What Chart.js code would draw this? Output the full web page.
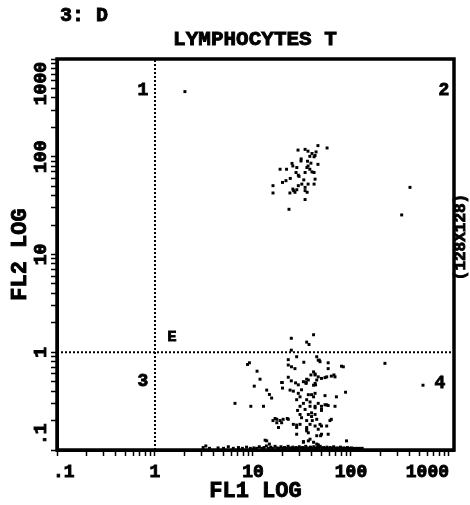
<!DOCTYPE html>
<html>
<head>
<meta charset="utf-8">
<script src="https://cdn.jsdelivr.net/npm/chart.js@4.4.0/dist/chart.umd.min.js"></script>
<style>
  html, body { margin: 0; padding: 0; background: #fff; }
</style>
</head>
<body>
<canvas id="c" width="470" height="505"></canvas>
<script>
// FL1 / FL2 log scatter, lymphocytes T
var decades = [0.1, 1, 10, 100, 1000];
var decadeLabels = [".1", "1", "10", "100", "1000"];

// quadrant gates (FL1 = 1, FL2 = 1)
var gateX = 1;
var gateY = 1;

// [FL1, FL2] events
var upperCluster = [
  [46,130],[57,123],[28.8,117],[34,119],[36.4,114],[40,108],[43,103],[42,100],[38,101],
  [30.9,90.5],[36,90],[46,83.6],[25,85.5],[25.5,80.5],[18.9,74.5],[22,74.5],[28,77.6],
  [35.5,77.6],[36.5,80.5],[38,74.5],[40,70],[42,69],[27.5,69],[29,64.7],[29.5,63],[34,69],
  [43,59],[21.7,56.9],[20,54.6],[31.5,52.5],[36.5,52.5],[42,52.5],[29,50.6],[34,48.6],
  [16,50.6],[16,42.6],[25.5,46.7],[26,45],[26.8,43.3],[28,46],[23.8,42.6],[34,45],
  [35.7,43.3],[34,36.5],[23.3,29],[31,95],[44,112],[39,86],[24,60],[33,58]
];

var lowerCluster = [
  [24.6,1.39],[41.5,1.51],[35.3,1.27],[37.3,1.2],[24.6,1.05],[9.2,0.78],[8.8,0.75],[11.0,0.64],
  [11.8,0.53],[10.3,0.45],[6.55,0.3],[9.5,0.28],[12.8,0.28],[13.8,0.41],[14.7,0.37],[15.5,0.34],
  [19.6,0.49],[20,0.43],[22.9,0.74],[24.7,0.71],[26.8,0.68],[22.9,0.84],[16.8,0.21],[17.5,0.19],
  [18.2,0.17],[19.6,0.19],[22.4,0.21],[27.9,0.18],[30.2,0.183],[23.9,0.41],[25.8,0.4],[29,0.38],
  [30.2,0.35],[32.7,0.5],[34.8,0.48],[36.7,0.52],[41.5,0.46],[43,0.48],[44.7,0.52],[41.5,0.63],
  [43,0.586],[46.3,0.56],[46.3,0.83],[48.3,0.8],[58.5,0.78],[58.5,0.68],[56.5,0.56],[67,0.586],
  [71,0.35],[88,0.39],[83.5,0.71],[63,0.206],[30.2,0.28],[32.7,0.3],[35.3,0.327],[38.2,0.31],
  [41.5,0.35],[43,0.28],[46.3,0.3],[50,0.28],[54.3,0.29],[58.5,0.285],[34,0.26],[36.7,0.231],
  [39.6,0.24],[43,0.231],[44.7,0.206],[48.3,0.183],[46.3,0.163],[56.5,0.176],[58.5,0.145],
  [49,0.14],[35.3,0.163],[36.7,0.15],[27.9,0.145],[38.2,0.129],[32.7,0.12],[44.7,0.115],
  [46.3,0.11],[13.8,0.124],[14.7,0.115],[90,0.124],
  [24.6,0.51],[27.2,0.486],[29,0.464],[19.9,0.49],[35.3,0.53],[34.8,0.49],[43.5,0.464],[50,0.54],
  [54.3,0.55],[31.3,0.413],[36.7,0.368],[39.6,0.368],[43,0.38],[54.3,0.36],[27.9,0.327],
  [38.2,0.28],[43,0.27],[50,0.254],[56.5,0.29],[28.5,0.254],[30.2,0.231],[31.3,0.214],
  [39.6,0.22],[22.9,0.206],[25.8,0.183],[27.9,0.17],[35.3,0.17],[40.3,0.2],[43,0.176],[50,0.176],
  [35.3,0.157],[50,0.145],[44.7,0.14],[32.7,0.122],[36.7,0.124],[41.5,0.12],[46.3,0.113],
  [13.3,0.126],[68.7,0.56],[80,0.72],[33,0.79],[27.9,0.9],[44.7,0.9],[47.5,0.83],[39,0.586],
  [43,0.6],[63,0.57],[22.9,0.555],[16,0.2],[17.5,0.206],[18.9,0.2],[20.3,0.206],[35.3,0.2],
  [38.2,0.183],[61,0.2],[68.7,0.28],[50,0.26]
];

// events piled on the FL2 floor
var floorEvents = [
  [3.1,0.106],[3.3,0.11],[3.6,0.104],[4.4,0.105],[5.0,0.104],[5.6,0.108],[6.3,0.104],[7.1,0.106],
  [7.8,0.104],[8.6,0.107],[9.4,0.104],[10.2,0.105],[10.9,0.104],[11.6,0.108],[12.3,0.104],
  [13.0,0.106],[13.7,0.11],[14.4,0.104],[15.2,0.107],[16.0,0.104],[16.8,0.109],[17.6,0.105],
  [18.5,0.104],[19.3,0.108],[20.1,0.104],[21.0,0.106],[21.9,0.104],[22.8,0.109],[23.7,0.105],
  [24.6,0.104],[25.5,0.107],[26.5,0.104],[27.5,0.106],[28.6,0.104],[29.7,0.108],[30.8,0.104],
  [32.0,0.106],[33.2,0.104],[34.5,0.109],[35.8,0.105],[37.2,0.104],[38.6,0.107],[40.1,0.104],
  [41.7,0.108],[43.3,0.104],[45.0,0.106],[46.8,0.104],[48.6,0.109],[50.5,0.104],[52.5,0.106],
  [54.6,0.104],[56.8,0.107],[59.1,0.104],[61.5,0.106],[64.0,0.104],[66.6,0.108],[69.3,0.104],
  [72.1,0.105],[75.0,0.104],[78.1,0.107],[81.3,0.104],[84.6,0.105],[88.0,0.104],[92.0,0.106],
  [96.5,0.104],[101,0.105],[107,0.104],[114,0.104],[122,0.104],[130,0.104]
];

var strayEvents = [[2.02,464],[400,48.6],[329,25.4],[543,0.46],[222,0.77]];

function pts(list) {
  return list.map(function(p) { return {x: p[0], y: p[1]}; });
}

function minorTicks() {
  var out = [];
  for (var d = 0; d < decades.length; d++) {
    out.push({value: decades[d]});
    if (d < decades.length - 1) {
      for (var k = 2; k <= 9; k++) out.push({value: decades[d] * k});
    }
  }
  return out;
}

var mono = '"Liberation Mono", "DejaVu Sans Mono", monospace';

// heavy text: fill plus a thin stroke, like the old plotter font
function text(ctx, s, x, y, size, align, rot) {
  ctx.save();
  ctx.translate(x, y);
  if (rot) ctx.rotate(rot);
  ctx.font = "bold " + size + "px " + mono;
  ctx.fillStyle = "#000";
  ctx.strokeStyle = "#000";
  ctx.lineWidth = 0.9;
  ctx.textAlign = align || "center";
  ctx.textBaseline = "middle";
  ctx.fillText(s, 0, 0);
  ctx.strokeText(s, 0, 0);
  ctx.restore();
}

var decor = {
  id: "decor",
  afterDraw: function(chart) {
    var ctx = chart.ctx;
    var a = chart.chartArea;
    var xs = chart.scales.x;
    var ys = chart.scales.y;

    // frame
    ctx.save();
    ctx.strokeStyle = "#000";
    ctx.lineWidth = 3.5;
    ctx.strokeRect(a.left, a.top, a.right - a.left, a.bottom - a.top);
    ctx.restore();

    var i, p;
    // x tick labels: first starts at its tick, last ends at its tick
    for (i = 0; i < decades.length; i++) {
      p = xs.getPixelForValue(decades[i]);
      var al = i === 0 ? "left" : (i === decades.length - 1 ? "right" : "center");
      text(ctx, decadeLabels[i], p + (i === 0 ? -4 : 0), 472, 18, al);
    }

    // y tick labels, kept inside the axis length
    ctx.save();
    ctx.font = "bold 18px " + mono;
    for (i = 0; i < decades.length; i++) {
      p = ys.getPixelForValue(decades[i]);
      var w = ctx.measureText(decadeLabels[i]).width;
      var c = Math.min(Math.max(p, a.top + 3 + w / 2), a.bottom - 5 - w / 2);
      text(ctx, decadeLabels[i], 41, c, 18, "center", -Math.PI / 2);
    }
    ctx.restore();

    text(ctx, "FL1 LOG", (a.left + a.right) / 2, 491, 22, "center");
    text(ctx, "FL2 LOG", 20, (a.top + a.bottom) / 2, 22, "center", -Math.PI / 2);

    text(ctx, "3: D", 60, 16, 20, "left");
    text(ctx, "LYMPHOCYTES T", 255, 40, 21, "center");
    text(ctx, "(128X128)", 461, 237, 16, "center", -Math.PI / 2);

    text(ctx, "1", 143, 90, 18);
    text(ctx, "2", 444, 90, 18);
    text(ctx, "3", 143, 381, 18);
    text(ctx, "4", 440, 383, 18);
    text(ctx, "E", 172, 337, 15);
  }
};

var dotStyle = {
  type: "scatter",
  pointStyle: "rect",
  pointRadius: 2.1,
  pointHoverRadius: 2.1,
  backgroundColor: "#000",
  borderWidth: 0
};

function dots(list) {
  return Object.assign({data: pts(list)}, dotStyle);
}

function gateLine(data) {
  return {
    type: "line",
    data: data,
    borderColor: "#000",
    borderWidth: 2,
    borderDash: [2, 2],
    pointRadius: 0,
    fill: false
  };
}

new Chart(document.getElementById("c"), {
  type: "scatter",
  data: {
    datasets: [
      gateLine([{x: gateX, y: 0.1}, {x: gateX, y: 1000}]),
      gateLine([{x: 0.1, y: gateY}, {x: 1125, y: gateY}]),
      dots(upperCluster),
      dots(lowerCluster),
      dots(floorEvents),
      dots(strayEvents)
    ]
  },
  options: {
    responsive: false,
    animation: false,
    events: [],
    layout: {padding: {top: 59, right: 16, left: 0, bottom: 0}},
    plugins: {legend: {display: false}, tooltip: {enabled: false}, title: {display: false}},
    scales: {
      x: {
        type: "logarithmic",
        position: "bottom",
        min: 0.1,
        max: 1125,
        afterBuildTicks: function(s) { s.ticks = minorTicks(); },
        afterFit: function(s) { s.height = 55; },
        ticks: {display: false},
        grid: {drawOnChartArea: false, drawTicks: true, tickLength: 6, tickColor: "#000", tickWidth: 1.5},
        border: {display: true, color: "#000", width: 3}
      },
      y: {
        type: "logarithmic",
        position: "left",
        min: 0.1,
        max: 1000,
        afterBuildTicks: function(s) { s.ticks = minorTicks(); },
        afterFit: function(s) { s.width = 57; },
        ticks: {display: false},
        grid: {drawOnChartArea: false, drawTicks: true, tickLength: 6, tickColor: "#000", tickWidth: 1.5},
        border: {display: true, color: "#000", width: 3}
      }
    }
  },
  plugins: [decor]
});
</script>
</body>
</html>
